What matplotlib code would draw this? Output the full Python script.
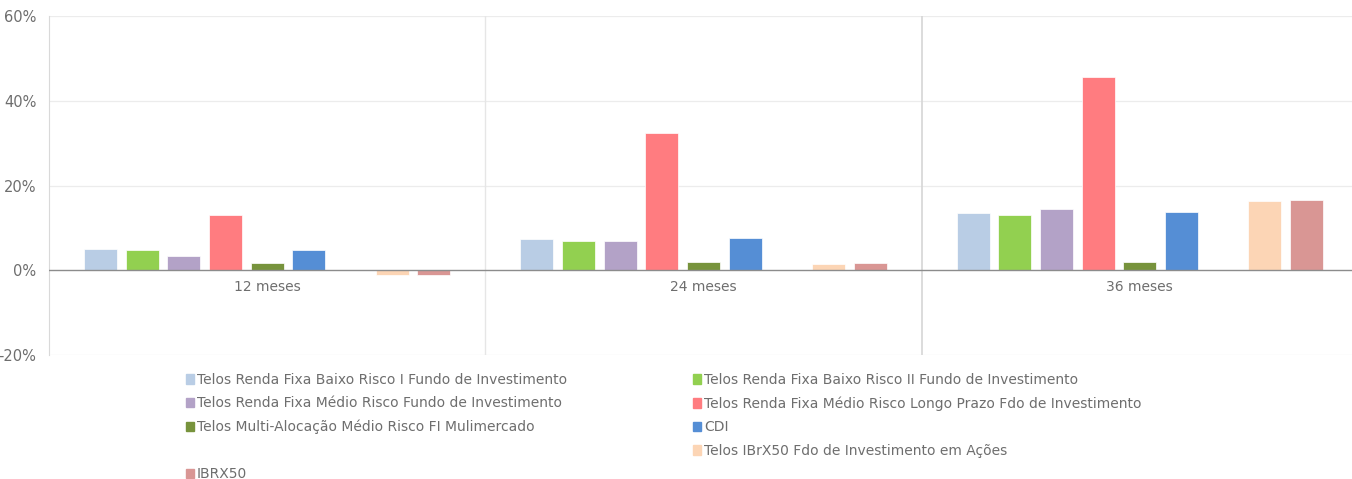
import numpy as np
import matplotlib.pyplot as plt
from matplotlib.patches import Rectangle

# ------------------------------- DATA ----------------------------------------
periods = ['12 meses', '24 meses', '36 meses']

series_names = [
    'Telos Renda Fixa Baixo Risco I Fundo de Investimento',
    'Telos Renda Fixa Baixo Risco II Fundo de Investimento',
    'Telos Renda Fixa Médio Risco Fundo de Investimento',
    'Telos Renda Fixa Médio Risco Longo Prazo Fdo de Investimento',
    'Telos Multi-Alocação Médio Risco FI Mulimercado',
    'CDI',
    '',
    'Telos IBrX50 Fdo de Investimento em Ações',
    'IBRX50',
]

# returns in % (the 7th series is empty)
baixo_risco_i = [5.0, 7.3, 13.5]
baixo_risco_ii = [4.7, 7.0, 13.1]
medio_risco = [3.3, 6.8, 14.4]
medio_risco_lp = [13.0, 32.3, 45.7]
multi_alocacao = [1.6, 1.9, 1.9]
cdi = [4.8, 7.5, 13.8]
vazio = [np.nan, np.nan, np.nan]
ibrx50_fundo = [-1.2, 1.5, 16.3]
ibrx50 = [-1.2, 1.6, 16.5]

series_values = [baixo_risco_i, baixo_risco_ii, medio_risco, medio_risco_lp,
                 multi_alocacao, cdi, vazio, ibrx50_fundo, ibrx50]

colors = ['#b9cde5', '#92d050', '#b3a2c7', '#ff7c80', '#77933c',
          '#558ed5', '#ffffff', '#fcd5b5', '#d99694']

# ------------------------------ PLOTTING -------------------------------------
text_col = '#6e6e6e'
plt.rcParams['font.family'] = 'DejaVu Sans'

fig = plt.figure(figsize=(13.52, 4.79), dpi=100)
ax = fig.add_axes([49/1352, 1-355/479, (1358-49)/1352, (355-16)/479])

x = np.arange(len(periods))
slot = 0.0955
width = 0.076
n = len(series_values)
for i, vals in enumerate(series_values):
    ax.bar(x + (i - (n-1)/2)*slot, vals, width, color=colors[i],
           edgecolor='white', linewidth=0.5, zorder=3)

ax.set_xlim(-0.5, 2.5)
ax.set_ylim(-20, 60)
ax.set_yticks([-20, 0, 20, 40, 60])
ax.set_yticklabels([f'{t}%' for t in [-20, 0, 20, 40, 60]])
ax.set_xticks([])
ax.tick_params(axis='y', length=0, pad=9, labelsize=10.5, labelcolor=text_col)

for s in ['top', 'right', 'bottom']:
    ax.spines[s].set_visible(False)
ax.spines['left'].set_color('#d9d9d9')

for yv in [20, 40, 60, -20]:
    ax.axhline(yv, color='#ececec', lw=0.9, zorder=1)
ax.axhline(0, color='#8c8c8c', lw=1.0, zorder=4)
ax.axvline(0.5, color='#e6e6e6', lw=1.0, zorder=1)
ax.axvline(1.5, color='#d6d6d6', lw=1.2, zorder=1)

for xi, p in zip(x, periods):
    ax.annotate(p, (xi, 0), xytext=(0, -7), textcoords='offset points',
                ha='center', va='top', fontsize=10, color=text_col)

# legend in two columns, placed row by row
handles = [Rectangle((0, 0), 1, 1, color=c, alpha=0 if name == '' else 1)
           for c, name in zip(colors, series_names)]
left_idx = [0, 2, 4, 6, 8]
right_idx = [1, 3, 5, 7]
for idx, xpos in [(left_idx, 186/1352), (right_idx, 693/1352)]:
    fig.legend([handles[k] for k in idx], [series_names[k] for k in idx],
               loc='upper left', bbox_to_anchor=(xpos, 1-373/479),
               frameon=False, fontsize=10, labelcolor=text_col,
               handlelength=0.55, handleheight=0.7, handletextpad=0.25,
               labelspacing=0.68, borderaxespad=0, borderpad=0)

fig.savefig('out.png', dpi=100)
